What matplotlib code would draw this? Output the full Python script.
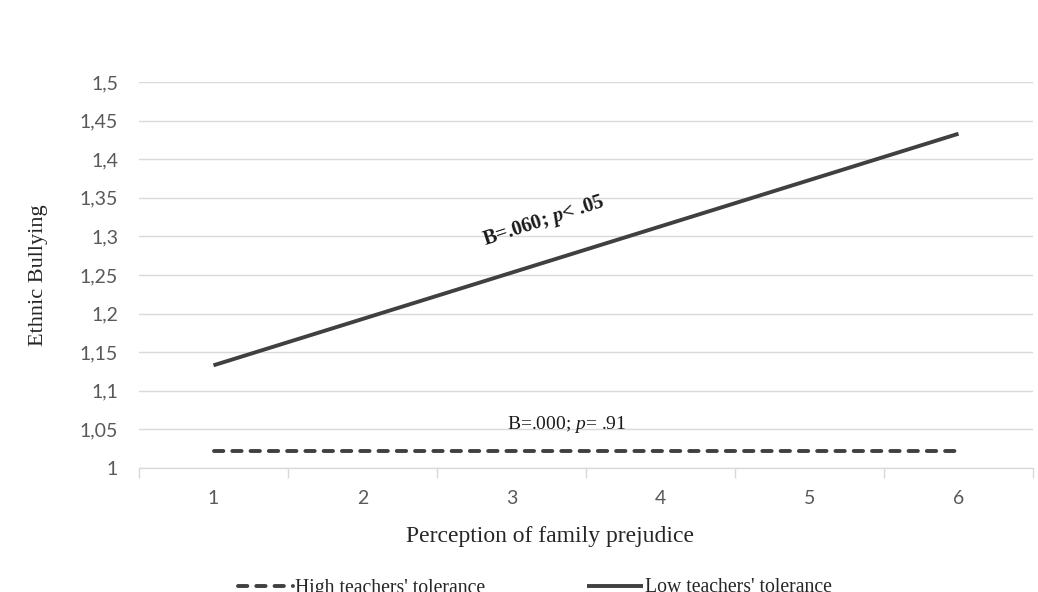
import matplotlib
matplotlib.use("Agg")
import matplotlib.pyplot as plt
import numpy as np

categories = ["1", "2", "3", "4", "5", "6"]
high_tol = [1.022, 1.022, 1.022, 1.022, 1.022, 1.022]
low_tol = [1.133, 1.193, 1.253, 1.313, 1.373, 1.433]
yticks = [1.0, 1.05, 1.1, 1.15, 1.2, 1.25, 1.3, 1.35, 1.4, 1.45, 1.5]
ytick_labels = ["1", "1,05", "1,1", "1,15", "1,2", "1,25", "1,3", "1,35", "1,4", "1,45", "1,5"]

serif = "Liberation Serif"
plt.rcParams["mathtext.fontset"] = "custom"
plt.rcParams["mathtext.rm"] = serif
plt.rcParams["mathtext.it"] = serif + ":italic"
plt.rcParams["mathtext.bf"] = serif + ":bold"
plt.rcParams["mathtext.bfit"] = serif + ":bold:italic"

fig = plt.figure(figsize=(10.38, 5.92), dpi=100)
ax = fig.add_axes([139/1038, 1-468/592, (1033-139)/1038, (468-82)/592])

x = np.arange(len(categories)) + 0.5
line_col = "#404040"
ax.plot(x, high_tol, color=line_col, lw=2.8, dashes=(2.4, 2.3),
        dash_capstyle="round", label="High teachers' tolerance")
ax.plot(x, low_tol, color=line_col, lw=2.8, solid_capstyle="butt",
        label="Low teachers' tolerance")

ax.set_xlim(0, len(categories))
ax.set_ylim(1.0, 1.5)
ax.set_yticks(yticks)
ax.set_yticklabels(ytick_labels)
ax.set_xticks(np.arange(len(categories) + 1))
ax.set_xticklabels([])
ax.set_xticks(x, minor=True)
ax.set_xticklabels(categories, minor=True)

grid_col = "#d9d9d9"
ax.yaxis.grid(True, color=grid_col, lw=1.0)
ax.set_axisbelow(True)
for s in ["left", "right", "top"]:
    ax.spines[s].set_visible(False)
ax.spines["bottom"].set_color(grid_col)
ax.spines["bottom"].set_linewidth(1.0)
ax.tick_params(axis="y", length=0, pad=15, labelsize=14, labelcolor="#595959")
ax.tick_params(axis="x", which="major", length=7, color=grid_col, width=1.0, direction="out")
ax.tick_params(axis="x", which="minor", length=0, pad=16, labelsize=14, labelcolor="#595959")
for lab in ax.get_yticklabels() + ax.get_xticklabels(minor=True):
    lab.set_family("Lato")

ax.set_ylabel("Ethnic Bullying", family=serif, fontsize=16, color="#262626")
ax.yaxis.set_label_coords(-0.102, 0.5)
ax.set_xlabel("Perception of family prejudice", family=serif, fontsize=17, color="#262626")
ax.xaxis.set_label_coords(0.46, -0.15)

ax.text(2.72, 1.319, "B=.060; $\\mathbfit{p}$< .05", family=serif, fontsize=14.8, fontweight="bold",
        rotation=18, ha="center", va="center", color="#1a1a1a")
ax.text(2.87, 1.056, "B=.000; $\\mathit{p}$= .91", family=serif, fontsize=14,
        ha="center", va="center", color="#1a1a1a")

leg = fig.legend(loc="center", bbox_to_anchor=(0.515, 1-588/592), ncol=2, frameon=False,
                 prop={"family": serif, "size": 14.2}, handlelength=2.8, handletextpad=0.1,
                 columnspacing=5.2)
for t in leg.get_texts():
    t.set_color("#262626")

fig.savefig("out.png", dpi=100)
